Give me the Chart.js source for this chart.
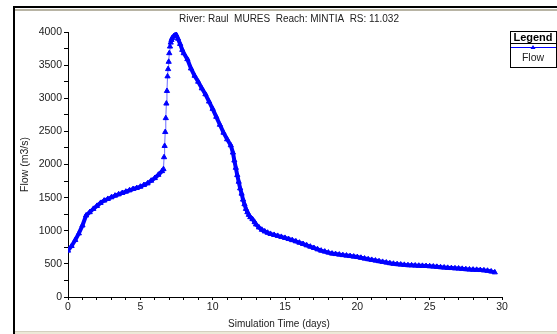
<!DOCTYPE html>
<html>
<head>
<meta charset="utf-8">
<script src="https://cdn.jsdelivr.net/npm/chart.js@4"></script>
<style>
  html, body { margin: 0; padding: 0; background: #fff; }
  #wrap { position: relative; width: 557px; height: 334px; overflow: hidden; }
  #frameTop { position: absolute; left: 13px; top: 6px; right: 0; height: 2px; background: #000; }
  #frameTop2 { position: absolute; left: 15px; top: 9px; right: 0; height: 2px; background: #b8b4a4; }
  #frameLeft { position: absolute; left: 13px; top: 6px; width: 2px; bottom: 0; background: #000; }
  #frameBottom { position: absolute; left: 15px; bottom: 0; right: 0; height: 2px; background: #ece9d8; border-top: 1px solid #d4d0c0; }
  canvas { position: absolute; left: 0; top: 0; }
</style>
</head>
<body>
<div id="wrap">
  <canvas id="flowChart" width="557" height="334"></canvas>
  <div id="frameTop"></div>
  <div id="frameTop2"></div>
  <div id="frameLeft"></div>
  <div id="frameBottom"></div>
</div>
<script>
const chartTitle = "River: Raul  MURES  Reach: MINTIA  RS: 11.032";
const xTitle = "Simulation Time (days)";
const yTitle = "Flow (m3/s)";
const seriesName = "Flow";

const timeDays = [
  0, 0.25, 0.5, 0.75, 1.0, 1.25, 1.5, 1.75, 2.0, 2.25, 2.5, 2.75, 3.0, 3.25, 3.5, 3.75,
  4.0, 4.25, 4.5, 4.75, 5.0, 5.25, 5.5, 5.75, 6.0, 6.25, 6.5, 6.6,
  6.64, 6.68, 6.72, 6.76, 6.8, 6.84, 6.88, 6.92, 6.96, 7.0, 7.05, 7.1, 7.15, 7.2, 7.3, 7.4, 7.48,
  7.6, 7.75, 7.9, 8.0, 8.25, 8.5, 8.75, 9.0, 9.25, 9.5, 9.75, 10.0, 10.25, 10.5, 10.75, 11.0, 11.25,
  11.4, 11.5, 11.6, 11.7, 11.8, 11.9, 12.0, 12.1, 12.2, 12.3, 12.4, 12.5, 12.6, 12.75, 12.9, 13.0,
  13.2, 13.4, 13.6, 13.8, 14.0, 14.25, 14.5, 14.75, 15.0, 15.25, 15.5, 15.75, 16.0, 16.25, 16.5, 16.75,
  17.0, 17.25, 17.5, 17.75, 18.0, 18.25, 18.5, 18.75, 19.0, 19.25, 19.5, 19.75, 20.0, 20.25, 20.5, 20.75,
  21.0, 21.25, 21.5, 21.75, 22.0, 22.25, 22.5, 22.75, 23.0, 23.25, 23.5, 23.75, 24.0, 24.25, 24.5, 24.75,
  25.0, 25.25, 25.5, 25.75, 26.0, 26.25, 26.5, 26.75, 27.0, 27.25, 27.5, 27.75, 28.0, 28.25, 28.5, 28.75,
  29.0, 29.25, 29.5
];
const flow = [
  700, 770, 860, 960, 1080, 1230, 1280, 1330, 1375, 1420, 1455, 1480, 1505, 1530, 1550, 1570,
  1590, 1610, 1630, 1645, 1665, 1690, 1715, 1755, 1795, 1845, 1900, 1930,
  2110, 2280, 2490, 2700, 2920, 3110, 3330, 3440, 3550, 3680, 3780, 3840, 3880, 3910, 3935, 3950, 3955,
  3900, 3820, 3730, 3680, 3590, 3450, 3340, 3250, 3150, 3060, 2950, 2840, 2720, 2600, 2480, 2380, 2290,
  2180, 2060, 1950, 1840, 1740, 1640, 1560, 1470, 1400, 1330, 1280, 1240, 1205, 1175, 1130, 1095,
  1050, 1015, 990, 970, 952, 937, 922, 907, 892, 875, 858, 840, 820, 800, 780, 760,
  740, 720, 700, 685, 670, 655, 648, 640, 632, 625, 618, 610, 603, 592, 580, 570,
  560, 550, 540, 530, 520, 510, 502, 496, 490, 485, 480, 478, 475, 472, 470, 468,
  465, 460, 455, 450, 445, 440, 437, 433, 430, 425, 420, 416, 413, 410, 407, 402,
  396, 386, 372
];
const xTicks = [0, 5, 10, 15, 20, 25, 30];
const yTicks = [0, 500, 1000, 1500, 2000, 2500, 3000, 3500, 4000];

const blue = "#0000ff";
const textColor = "#222";
const fontFamily = "'Liberation Sans', Arial, sans-serif";

const decor = {
  id: "decor",
  afterDraw(chart) {
    const c = chart.ctx;
    const area = chart.chartArea;
    c.save();
    c.fillStyle = textColor;
    c.font = "10px " + fontFamily;
    c.textAlign = "center";
    c.textBaseline = "middle";
    c.fillText(chartTitle, 289, 19);
    c.fillText(xTitle, 279, 324);

    c.translate(25, (area.top + area.bottom) / 2);
    c.rotate(-Math.PI / 2);
    c.font = "10.5px " + fontFamily;
    c.fillText(yTitle, 0, 0);
    c.restore();

    // legend box
    c.save();
    c.strokeStyle = "#000";
    c.lineWidth = 1;
    c.strokeRect(510.5, 31.5, 46, 36);
    c.beginPath();
    c.moveTo(510, 43.5);
    c.lineTo(557, 43.5);
    c.stroke();
    c.fillStyle = "#000";
    c.font = "bold 11px " + fontFamily;
    c.textAlign = "center";
    c.textBaseline = "middle";
    c.fillText("Legend", 533, 37.5);
    c.strokeStyle = blue;
    c.beginPath();
    c.moveTo(511, 47.5);
    c.lineTo(556, 47.5);
    c.stroke();
    c.fillStyle = blue;
    c.beginPath();
    c.moveTo(533, 45);
    c.lineTo(535.5, 49);
    c.lineTo(530.5, 49);
    c.closePath();
    c.fill();
    c.fillStyle = textColor;
    c.font = "10.5px " + fontFamily;
    c.fillText(seriesName, 533, 58);
    c.restore();
  }
};

new Chart(document.getElementById("flowChart"), {
  type: "line",
  data: {
    datasets: [{
      label: seriesName,
      data: timeDays.map((t, i) => ({ x: t, y: flow[i] })),
      borderColor: blue,
      backgroundColor: blue,
      borderWidth: 4,
      pointStyle: "triangle",
      pointRadius: 3,
      pointBorderWidth: 1,
      pointBorderColor: blue,
      pointBackgroundColor: blue,
      tension: 0,
      segment: {
        // the hourly rising limb shows as a thin line between markers
        borderWidth: (s) => (s.p1.parsed.x - s.p0.parsed.x < 0.06 ? 1 : 4),
        borderColor: (s) => (s.p1.parsed.x - s.p0.parsed.x < 0.06 ? "#6a6aff" : blue),
      },
    }],
  },
  options: {
    responsive: false,
    animation: false,
    events: [],
    layout: { padding: { top: 32, right: 55, bottom: 0, left: 0 } },
    plugins: {
      legend: { display: false },
      title: { display: false },
      tooltip: { enabled: false },
    },
    scales: {
      x: {
        type: "linear",
        min: 0,
        max: 30,
        afterFit: (axis) => { axis.height = 37; },
        border: { color: "#000", width: 1 },
        grid: { drawOnChartArea: false, tickLength: 3, tickColor: "#000" },
        ticks: {
          stepSize: 1,
          autoSkip: false,
          maxRotation: 0,
          padding: 1,
          color: textColor,
          font: { family: fontFamily, size: 10.5 },
          callback: (v) => (xTicks.includes(v) ? String(v) : ""),
        },
      },
      y: {
        min: 0,
        max: 4000,
        afterFit: (axis) => { axis.width = 68; },
        border: { color: "#000", width: 1 },
        grid: { drawOnChartArea: false, tickLength: 4, tickColor: "#000" },
        ticks: {
          stepSize: 250,
          autoSkip: false,
          padding: 2,
          color: textColor,
          font: { family: fontFamily, size: 10.5 },
          callback: (v) => (yTicks.includes(v) ? String(v) : ""),
        },
      },
    },
  },
  plugins: [decor],
});
</script>
</body>
</html>
